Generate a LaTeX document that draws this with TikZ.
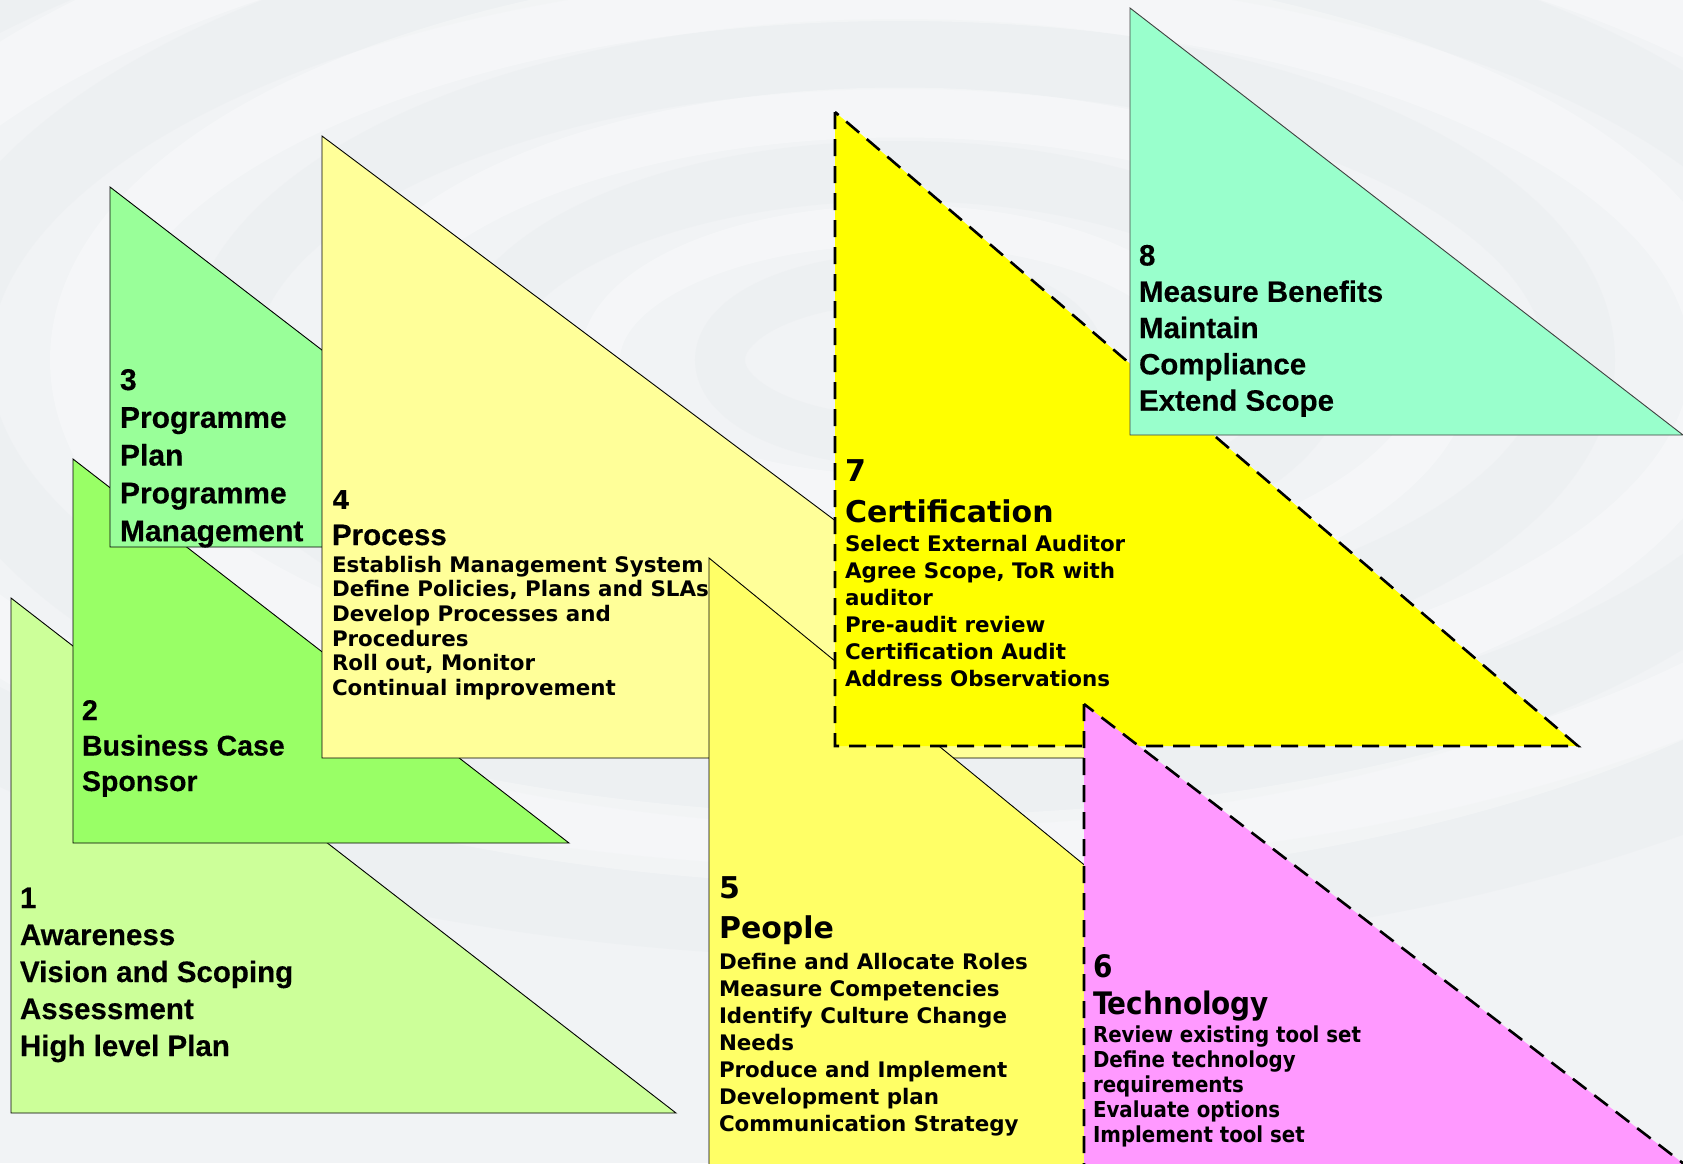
\documentclass[tikz,border=0pt]{standalone}
\usepackage{fontspec}
\newfontfamily\arialfont{Liberation Sans}[BoldFeatures={FakeBold=0.35}]
\newfontfamily\verdfont{DejaVu Sans}
\newfontfamily\tahfont{DejaVu Sans Condensed}

\definecolor{bgcol}{HTML}{F1F3F5}
\definecolor{ringcol}{HTML}{E8EBEE}
\definecolor{cAwareness}{HTML}{CCFF99}
\definecolor{cBusiness}{HTML}{99FF66}
\definecolor{cProgramme}{HTML}{99FF99}
\definecolor{cProcess}{HTML}{FFFF99}
\definecolor{cPeople}{HTML}{FFFF66}
\definecolor{cTechnology}{HTML}{FF99FF}
\definecolor{cCertification}{HTML}{FFFF00}
\definecolor{cBenefits}{HTML}{99FFCC}

\tikzset{
  tri/.style={draw=black, line width=0.9pt, line join=miter},
  dtri/.style={draw=black, line width=2.6pt, dash pattern=on 17pt off 10pt, line join=miter},
  txt/.style={anchor=base west, inner sep=0pt, outer sep=0pt, text=black},
  ar28/.style={font=\arialfont\bfseries\fontsize{28.5}{34}\selectfont},
  ar29/.style={font=\arialfont\bfseries\fontsize{29.5}{35}\selectfont},
  ar30/.style={font=\arialfont\bfseries\fontsize{30}{36}\selectfont},
  dvbody/.style={font=\verdfont\bfseries\fontsize{21.4}{25}\selectfont},
  dvhead/.style={font=\verdfont\bfseries\fontsize{30}{36}\selectfont},
  dvnum/.style={font=\verdfont\bfseries\fontsize{26}{30}\selectfont},
  tcbody/.style={font=\tahfont\bfseries\fontsize{22}{26}\selectfont},
  tchead/.style={font=\tahfont\bfseries\fontsize{31}{36}\selectfont},
}

% one text line per node: name, x, first baseline, line step, style, lines
\newcommand{\txtlines}[6]{%
  \foreach \t [count=\i] in {#6}
    \node[txt, #5, name=#1-\i] at (#2, {#3+(\i-1)*#4}) {\t};%
}

\begin{document}
\begin{tikzpicture}[x=1pt, y=-1pt]
\useasboundingbox (0,0) rectangle (1683,1163);
\clip (0,0) rectangle (1683,1163);

% background with faint ripples
\fill[bgcol] (0,0) rectangle (1683,1163);
\foreach \r/\w in {180/50, 420/60, 680/70, 950/80, 1230/90}
  \draw[ringcol, opacity=0.35, line width=\w] (900,360) ellipse [x radius=\r, y radius={\r*0.45}];
\foreach \r/\w in {300/40, 550/50, 820/60, 1090/70}
  \draw[white, opacity=0.3, line width=\w] (900,360) ellipse [x radius=\r, y radius={\r*0.45}];

% 1 Awareness
\filldraw[tri, fill=cAwareness] (11,598) -- (11,1113) -- (676,1113) -- cycle;
\txtlines{aw}{20}{908}{37}{ar29}{1, Awareness, Vision and Scoping, Assessment, High level Plan}

% 2 Business case
\filldraw[tri, fill=cBusiness] (73,459) -- (73,843) -- (569,843) -- cycle;
\txtlines{bc}{82}{720}{35.5}{ar28}{2, Business Case, Sponsor}

% 3 Programme
\filldraw[tri, fill=cProgramme] (110,187) -- (110,547) -- (578,547) -- cycle;
\txtlines{pg}{120}{390}{37.8}{ar30}{3, Programme, Plan, Programme, Management}

% 4 Process
\filldraw[tri, fill=cProcess] (322,136) -- (322,758) -- (1152,758) -- cycle;
\node[txt, dvnum, name=pr-num] at (332,509) {4};
\node[txt, ar29, name=pr-head] at (332,545) {Process};
\txtlines{pr}{332}{572}{24.7}{dvbody}{Establish Management System, {Define Policies, Plans and SLAs}, Develop Processes and, Procedures, {Roll out, Monitor}, Continual improvement}

% 5 People
\filldraw[tri, fill=cPeople] (709,558) -- (709,1200) -- (1494,1200) -- cycle;
\node[txt, dvhead, name=pe-num] at (719,898) {5};
\node[txt, dvhead, name=pe-head] at (719,938) {People};
\txtlines{pe}{719}{969}{27}{dvbody}{Define and Allocate Roles, Measure Competencies, Identify Culture Change, Needs, Produce and Implement, Development plan, Communication Strategy}

% 7 Certification
\filldraw[dtri, fill=cCertification] (835,112) -- (835,746) -- (1578,746) -- cycle;
\node[txt, dvhead, name=ce-num] at (845,481) {7};
\node[txt, dvhead, name=ce-head] at (845,522) {Certification};
\txtlines{ce}{845}{551}{27}{dvbody}{Select External Auditor, {Agree Scope, ToR with}, auditor, Pre-audit review, Certification Audit, Address Observations}

% 6 Technology
\filldraw[dtri, fill=cTechnology] (1084,704) -- (1084,1220) -- (1757,1220) -- cycle;
\node[txt, tchead, name=te-num] at (1093,977) {6};
\node[txt, tchead, name=te-head] at (1093,1014) {Technology};
\txtlines{te}{1093}{1042}{25}{tcbody}{Review existing tool set, Define technology, requirements, Evaluate options, Implement tool set}

% 8 Benefits
\filldraw[tri, draw=black!75, fill=cBenefits] (1130,8) -- (1130,435) -- (1683,435) -- cycle;
\txtlines{mb}{1139}{265.5}{36.3}{ar29}{8, Measure Benefits, Maintain, Compliance, Extend Scope}

\end{tikzpicture}
\end{document}
